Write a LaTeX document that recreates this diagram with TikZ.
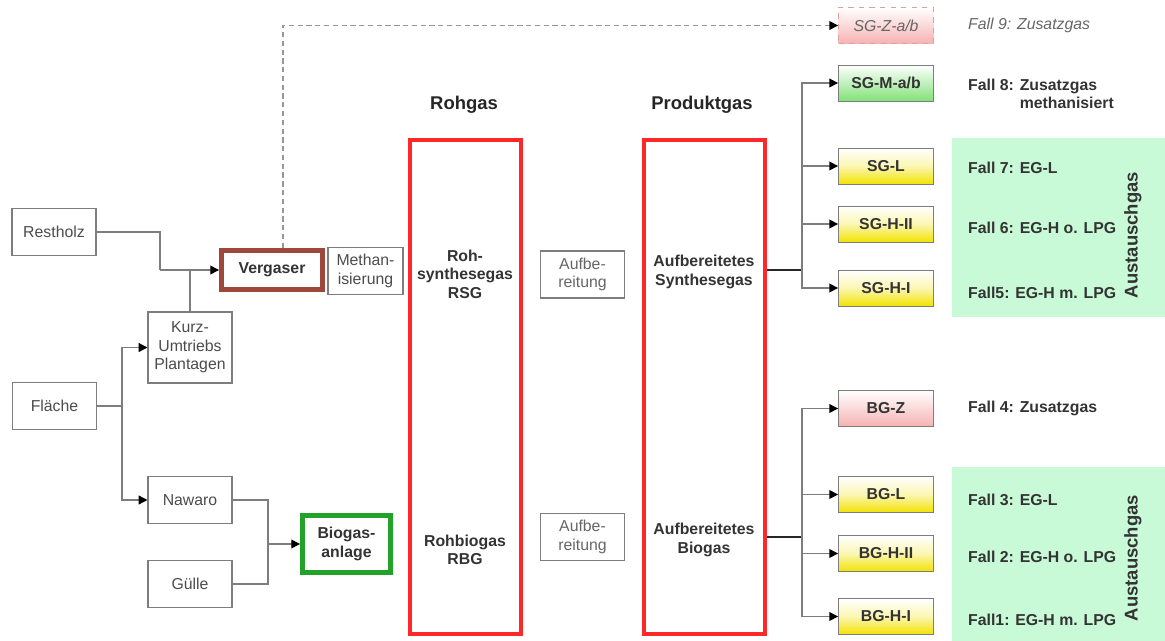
\documentclass[tikz,border=0pt]{standalone}
\usepackage{fontspec}
\setmainfont{Liberation Sans}
\usetikzlibrary{calc,arrows.meta}

\definecolor{rahmenrot}{RGB}{255,40,40}
\definecolor{vergaserbraun}{RGB}{158,72,58}
\definecolor{anlagegruen}{RGB}{34,162,40}
\definecolor{panelgruen}{RGB}{200,250,215}
\definecolor{linie}{RGB}{125,125,125}
\definecolor{gelb}{RGB}{242,226,0}
\definecolor{rosa}{RGB}{246,178,178}
\definecolor{hellgruen}{RGB}{130,225,120}

\tikzset{
	every node/.style={font=\fontsize{9}{10.5}\selectfont, text=black!80},
	quelle/.style={draw=linie, fill=white, line width=0.6pt, align=center, text=black!70, inner sep=1pt, minimum width=1.68cm, minimum height=0.94cm},
	anlage/.style={draw, line width=2.8pt, fill=white, align=center, inner sep=1pt, font=\bfseries\fontsize{9}{10.5}\selectfont},
	gasrahmen/.style={draw=rahmenrot, line width=2.3pt, minimum height=9.88cm},
	gastext/.style={align=center, font=\bfseries\fontsize{9}{10.5}\selectfont},
	titel/.style={font=\bfseries\fontsize{10.5}{12}\selectfont, text=black!85},
	ziel/.style={draw=linie, line width=0.5pt, minimum width=1.9cm, minimum height=0.72cm, font=\bfseries\fontsize{9}{10.5}\selectfont},
	zielgelb/.style={ziel, top color=white, bottom color=gelb, middle color=gelb!30!white},
	zielrosa/.style={ziel, top color=white, bottom color=rosa},
	zielgruen/.style={ziel, top color=white, bottom color=hellgruen},
	fallname/.style={anchor=west, align=left, font=\bfseries\fontsize{9}{10.5}\selectfont},
	quer/.style={rotate=90, font=\bfseries\fontsize{10.5}{12}\selectfont},
	verbind/.style={draw=linie, line width=0.8pt},
	pfeil/.style={verbind, -{Triangle[length=5pt,width=5pt,color=black]}},
	strang/.style={draw=black!85, line width=1pt},
}

\begin{document}
\begin{tikzpicture}[x=0.02cm,y=-0.02cm]
	\useasboundingbox (0,0) rectangle (1165,641);

	%green panels
	\fill[panelgruen] (952,138) rectangle (1165,317);
	\fill[panelgruen] (952,467) rectangle (1165,641);

	%sources
	\node[quelle] (rest) at (54,232) {Restholz};
	\node[quelle] (flae) at (54.5,406) {Fläche};
	\node[quelle, minimum height=1.42cm] (kurz) at (190,347.5) {Kurz-\\Umtriebs\\Plantagen};
	\node[quelle] (nawa) at (190,500) {Nawaro};
	\node[quelle] (guel) at (190,584) {Gülle};

	%plants
	\node[anlage, draw=vergaserbraun, minimum width=2.02cm, minimum height=0.78cm] (verg) at (272,270) {Vergaser};
	\node[quelle, minimum width=1.5cm] (meth) at (365.5,271) {Methan-\\isierung};
	\node[anlage, draw=anlagegruen, minimum width=1.76cm, minimum height=1.14cm] (biog) at (346.5,544) {Biogas-\\anlage};

	%raw gas and product gas
	\node[titel] (rohtitel) at (464,105) {Rohgas};
	\node[titel] (prodtitel) at (702,105) {Produktgas};
	\node[gasrahmen, minimum width=2.22cm] (roh) at (465.5,387) {};
	\node[gasrahmen, minimum width=2.42cm] (prod) at (704.5,387) {};
	\node[gastext] (rsg) at (465,274) {Roh-\\synthesegas\\RSG};
	\node[gastext] (rbg) at (465,550) {Rohbiogas\\RBG};
	\node[quelle, text=black!60] (aufb1) at (582.5,274.5) {Aufbe-\\reitung};
	\node[quelle, text=black!60] (aufb2) at (582.5,537) {Aufbe-\\reitung};
	\node[gastext] (asg) at (704,272) {Aufbereitetes\\Synthesegas};
	\node[gastext] (abg) at (704,540) {Aufbereitetes\\Biogas};

	%target gases
	\node[zielrosa, draw=rosa!90!black, dashed, font=\itshape\fontsize{9}{10.5}\selectfont, text=black!60] (sgz) at (886,25.5) {SG-Z-a/b};
	\node[zielgruen] (sgm) at (886,83) {SG-M-a/b};
	\node[zielgelb] (sgl) at (886,166) {SG-L};
	\node[zielgelb] (sghii) at (886,224) {SG-H-II};
	\node[zielgelb] (sghi) at (886,288) {SG-H-I};
	\node[zielrosa] (bgz) at (886,408.5) {BG-Z};
	\node[zielgelb] (bgl) at (886,494.5) {BG-L};
	\node[zielgelb] (bghii) at (886,553.5) {BG-H-II};
	\node[zielgelb] (bghi) at (886,616.5) {BG-H-I};

	%cases
	\node[fallname, font=\itshape\fontsize{9}{10.5}\selectfont, text=black!60] (f9) at (962,25) {Fall 9: Zusatzgas};
	\node[fallname] (f8) at (962,94) {Fall 8: Zusatzgas\\\phantom{Fall 8: }methanisiert};
	\node[fallname] (f7) at (962,168) {Fall 7: EG-L};
	\node[fallname] (f6) at (962,228) {Fall 6: EG-H o. LPG};
	\node[fallname] (f5) at (962,293) {Fall5: EG-H m. LPG};
	\node[fallname] (f4) at (962,408) {Fall 4: Zusatzgas};
	\node[fallname] (f3) at (962,500) {Fall 3: EG-L};
	\node[fallname] (f2) at (962,557) {Fall 2: EG-H o. LPG};
	\node[fallname] (f1) at (962,620) {Fall1: EG-H m. LPG};
	\node[quer] (aus1) at (1133,235) {Austauschgas};
	\node[quer] (aus2) at (1133,558) {Austauschgas};

	%connectors left
	\coordinate (vjoin) at (160,270);
	\coordinate (ffork) at (122,406);
	\coordinate (bjoin) at (268,544);
	\draw[verbind] (rest.east) -| (vjoin);
	\draw[verbind] (kurz.north) -- (kurz.north |- vjoin);
	\draw[pfeil] (vjoin) -- (verg.west);
	\draw[verbind] (flae.east) -- (ffork);
	\draw[pfeil] (ffork) |- (kurz.west);
	\draw[pfeil] (ffork) |- (nawa.west);
	\draw[verbind] (nawa.east) -| (bjoin);
	\draw[verbind] (guel.east) -| (bjoin);
	\draw[pfeil] (bjoin) -- (biog.west);

	%additional gas (dashed)
	\draw[pfeil, draw=linie!80, dash pattern=on 3pt off 2pt] ($(verg.north)+(11,0)$) |- (sgz.west);

	%connectors right
	\coordinate (sgfork) at (802,270);
	\coordinate (bgfork) at (802,537);
	\draw[strang] (prod.east |- sgfork) -- (sgfork);
	\draw[strang] (prod.east |- bgfork) -- (bgfork);
	\foreach \z in {sgm,sgl,sghii,sghi}
		\draw[pfeil] (sgfork) |- (\z.west);
	\foreach \z in {bgz,bgl,bghii,bghi}
		\draw[pfeil] (bgfork) |- (\z.west);
\end{tikzpicture}
\end{document}
